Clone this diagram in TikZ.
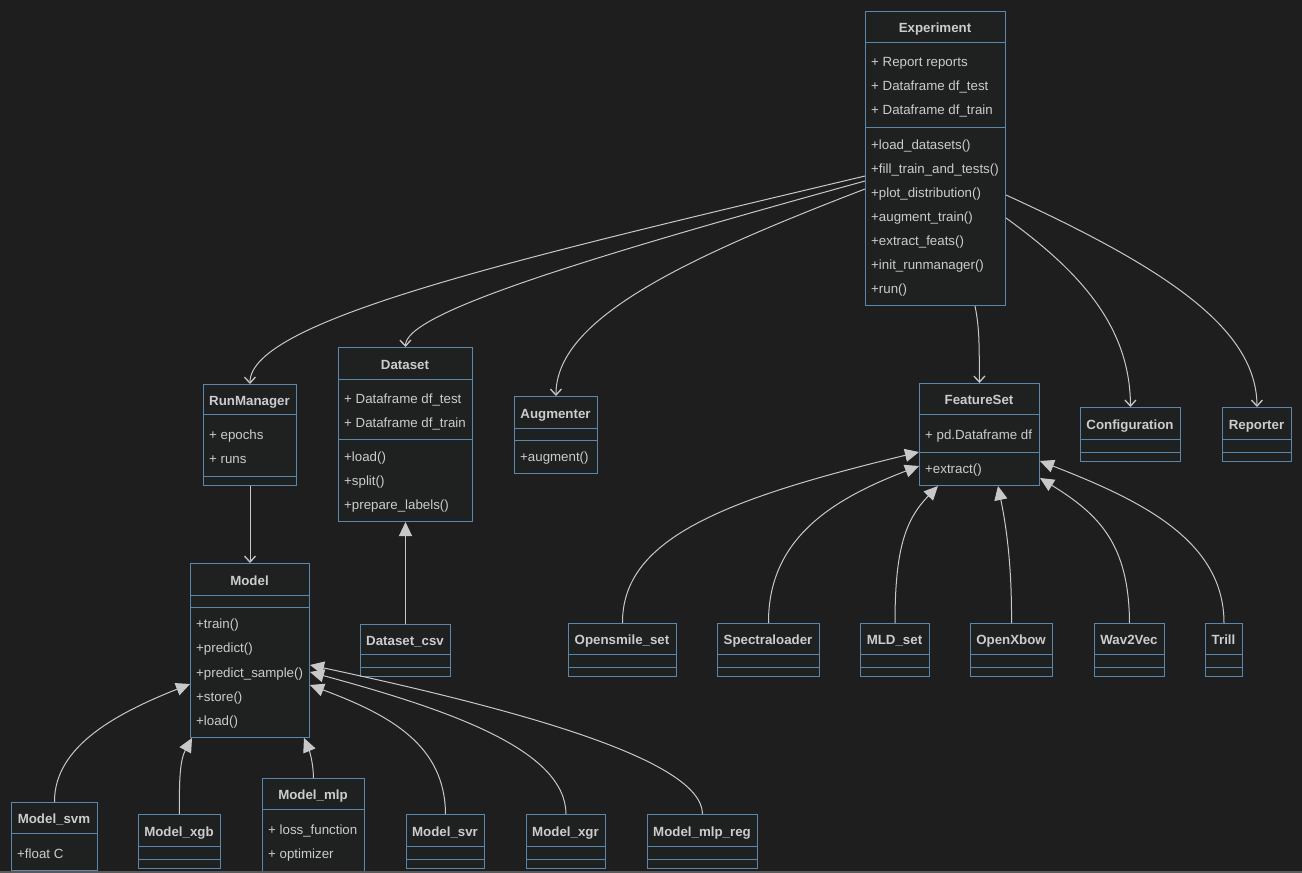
\documentclass[tikz,border=0pt]{standalone}
\usepackage{fontspec}
\setmainfont{Liberation Sans}
\usetikzlibrary{arrows.meta,calc}
\definecolor{bg}{HTML}{1E1E1E}
\definecolor{boxfill}{HTML}{1F2020}
\definecolor{boxline}{HTML}{5B87AD}
\definecolor{txt}{HTML}{CCCCCC}
\definecolor{edgecol}{HTML}{C8C8C8}
\definecolor{rulecol}{HTML}{5A5A5A}
\tikzset{
 clsbox/.style={draw=boxline, fill=boxfill, line width=1pt, inner sep=0pt, rectangle},
 divline/.style={draw=boxline, line width=1pt},
 ttl/.style={text=txt, font=\fontsize{13.3}{16}\selectfont\bfseries, inner sep=0pt, anchor=base},
 mem/.style={text=txt, font=\fontsize{13.3}{16}\selectfont, inner sep=0pt, anchor=base west},
 assoc/.style={draw=edgecol, line width=1pt, -{Straight Barb[length=6pt,width=11pt,line width=1.3pt]}},
 inherit/.style={draw=edgecol, line width=1pt, -{Triangle[length=14pt,width=13pt,fill=edgecol]}},
}
% name, x1, y1, x2, y2, divider1, divider2, title
\newcommand\umlbox[8]{%
 \node[clsbox, anchor=north west, minimum width={#4pt-#2pt}, minimum height={#5pt-#3pt}] (#1) at (#2,#3) {};
 \draw[divline] (#2,#6) -- (#4,#6);
 \draw[divline] (#2,#7) -- (#4,#7);
 \node[ttl] (#1-t) at ({(#2+#4)/2},{(#3+#6)/2+6}) {#8};
}
\begin{document}
\begin{tikzpicture}[x=1pt,y=-1pt]
\useasboundingbox (0,0) rectangle (1302,873);
\fill[bg] (0,0) rectangle (1302,873);
\clip (0,0) rectangle (1302,873);

% boxes
\umlbox{exp}{865}{11}{1005}{305}{42}{127}{Experiment}
\umlbox{rm}{203}{384}{296}{485}{414}{476}{RunManager}
\umlbox{ds}{338}{347}{472}{521}{379}{439}{Dataset}
\umlbox{aug}{514}{396}{597}{473}{428}{440}{Augmenter}
\umlbox{fs}{919}{383}{1039}{485}{414}{452}{FeatureSet}
\umlbox{conf}{1080}{407}{1180}{461}{439}{452}{Configuration}
\umlbox{rep}{1222}{407}{1291}{461}{439}{452}{Reporter}
\umlbox{model}{190}{563}{309}{737}{595}{607}{Model}
\umlbox{dscsv}{360}{624}{450}{676}{654}{667}{Dataset\_csv}
\umlbox{os}{568}{623}{676}{676}{654}{667}{Opensmile\_set}
\umlbox{spec}{717}{623}{819}{676}{654}{667}{Spectraloader}
\umlbox{mld}{860}{623}{929}{676}{654}{667}{MLD\_set}
\umlbox{oxb}{970}{623}{1052}{676}{654}{667}{OpenXbow}
\umlbox{w2v}{1094}{623}{1164}{676}{654}{667}{Wav2Vec}
\umlbox{trill}{1205}{623}{1242}{676}{654}{667}{Trill}
\umlbox{svm}{11}{802}{97}{900}{833}{870}{Model\_svm}
\umlbox{xgb}{138}{814}{220}{868}{846}{859}{Model\_xgb}
\umlbox{mlp}{262}{778}{364}{900}{809}{895}{Model\_mlp}
\umlbox{svr}{406}{814}{484}{868}{846}{859}{Model\_svr}
\umlbox{xgr}{526}{814}{605}{868}{846}{859}{Model\_xgr}
\umlbox{mlpreg}{647}{814}{757}{868}{846}{859}{Model\_mlp\_reg}

% members
\node[mem] (exp-a1) at (871,66) {+ Report reports};
\node[mem] (exp-a2) at (871,90) {+ Dataframe df\_test};
\node[mem] (exp-a3) at (871,114) {+ Dataframe df\_train};
\node[mem] (exp-m1) at (871,149) {+load\_datasets()};
\node[mem] (exp-m2) at (871,173) {+fill\_train\_and\_tests()};
\node[mem] (exp-m3) at (871,197) {+plot\_distribution()};
\node[mem] (exp-m4) at (871,221) {+augment\_train()};
\node[mem] (exp-m5) at (871,245) {+extract\_feats()};
\node[mem] (exp-m6) at (871,269) {+init\_runmanager()};
\node[mem] (exp-m7) at (871,293) {+run()};

\node[mem] (rm-a1) at (209,439) {+ epochs};
\node[mem] (rm-a2) at (209,463) {+ runs};

\node[mem] (ds-a1) at (344,403) {+ Dataframe df\_test};
\node[mem] (ds-a2) at (344,427) {+ Dataframe df\_train};
\node[mem] (ds-m1) at (344,461) {+load()};
\node[mem] (ds-m2) at (344,485) {+split()};
\node[mem] (ds-m3) at (344,509) {+prepare\_labels()};

\node[mem] (aug-m1) at (520,461) {+augment()};

\node[mem] (fs-a1) at (925,439) {+ pd.Dataframe df};
\node[mem] (fs-m1) at (925,473) {+extract()};

\node[mem] (model-m1) at (196,628) {+train()};
\node[mem] (model-m2) at (196,652) {+predict()};
\node[mem] (model-m3) at (196,677) {+predict\_sample()};
\node[mem] (model-m4) at (196,701) {+store()};
\node[mem] (model-m5) at (196,725) {+load()};

\node[mem] (svm-a1) at (17,858) {+float C};
\node[mem] (mlp-a1) at (268,834) {+ loss\_function};
\node[mem] (mlp-a2) at (268,858) {+ optimizer};

% associations from Experiment
\draw[assoc] ([yshift=-165pt]exp.north west) .. controls (520,258) and (249.5,320) .. (rm.north);
\draw[assoc] ([yshift=-170pt]exp.north west) .. controls (560,265) and (405,315) .. (ds.north);
\draw[assoc] ([yshift=-178pt]exp.north west) .. controls (680,260) and (555.5,320) .. (aug.north);
\draw[assoc] ([xshift=110pt]exp.south west) .. controls (980,330) and (979,350) .. (fs.north);
\draw[assoc] ([yshift=-207pt]exp.north east) .. controls (1085,275) and (1130,330) .. (conf.north);
\draw[assoc] ([yshift=-184pt]exp.north east) .. controls (1170,270) and (1256.5,330) .. (rep.north);
\draw[assoc] (rm.south) -- (model.north);

% inheritance
\draw[inherit] (dscsv.north) -- (ds.south);
\draw[inherit] (os.north) .. controls (622,540) and (720,500) .. ([yshift=-69pt]fs.north west);
\draw[inherit] (spec.north) .. controls (768,540) and (830,500) .. ([yshift=-83pt]fs.north west);
\draw[inherit] (mld.north) .. controls (895,550) and (905,520) .. ([xshift=19pt]fs.south west);
\draw[inherit] (oxb.north) .. controls (1012,560) and (1005,520) .. ([xshift=79pt]fs.south west);
\draw[inherit] (w2v.north) .. controls (1129,545) and (1100,515) .. ([yshift=-95pt]fs.north east);
\draw[inherit] (trill.north) .. controls (1224,540) and (1140,500) .. ([yshift=-78pt]fs.north east);

\draw[inherit] (svm.north) .. controls (54,745) and (120,712) .. ([yshift=-121pt]model.north west);
\draw[inherit] (xgb.north) .. controls (179,780) and (180,760) .. ([xshift=2pt]model.south west);
\draw[inherit] (mlp.north) .. controls (313,760) and (309,750) .. ([xshift=-6pt]model.south east);
\draw[inherit] (svr.north) .. controls (445,745) and (390,715) .. ([yshift=-122pt]model.north east);
\draw[inherit] (xgr.north) .. controls (565.5,750) and (450,710) .. ([yshift=-109pt]model.north east);
\draw[inherit] (mlpreg.north) .. controls (702,760) and (520,710) .. ([yshift=-102pt]model.north east);

% bottom rule
\draw[rulecol, line width=2pt] (0,871.5) -- (1302,871.5);
\end{tikzpicture}
\end{document}
